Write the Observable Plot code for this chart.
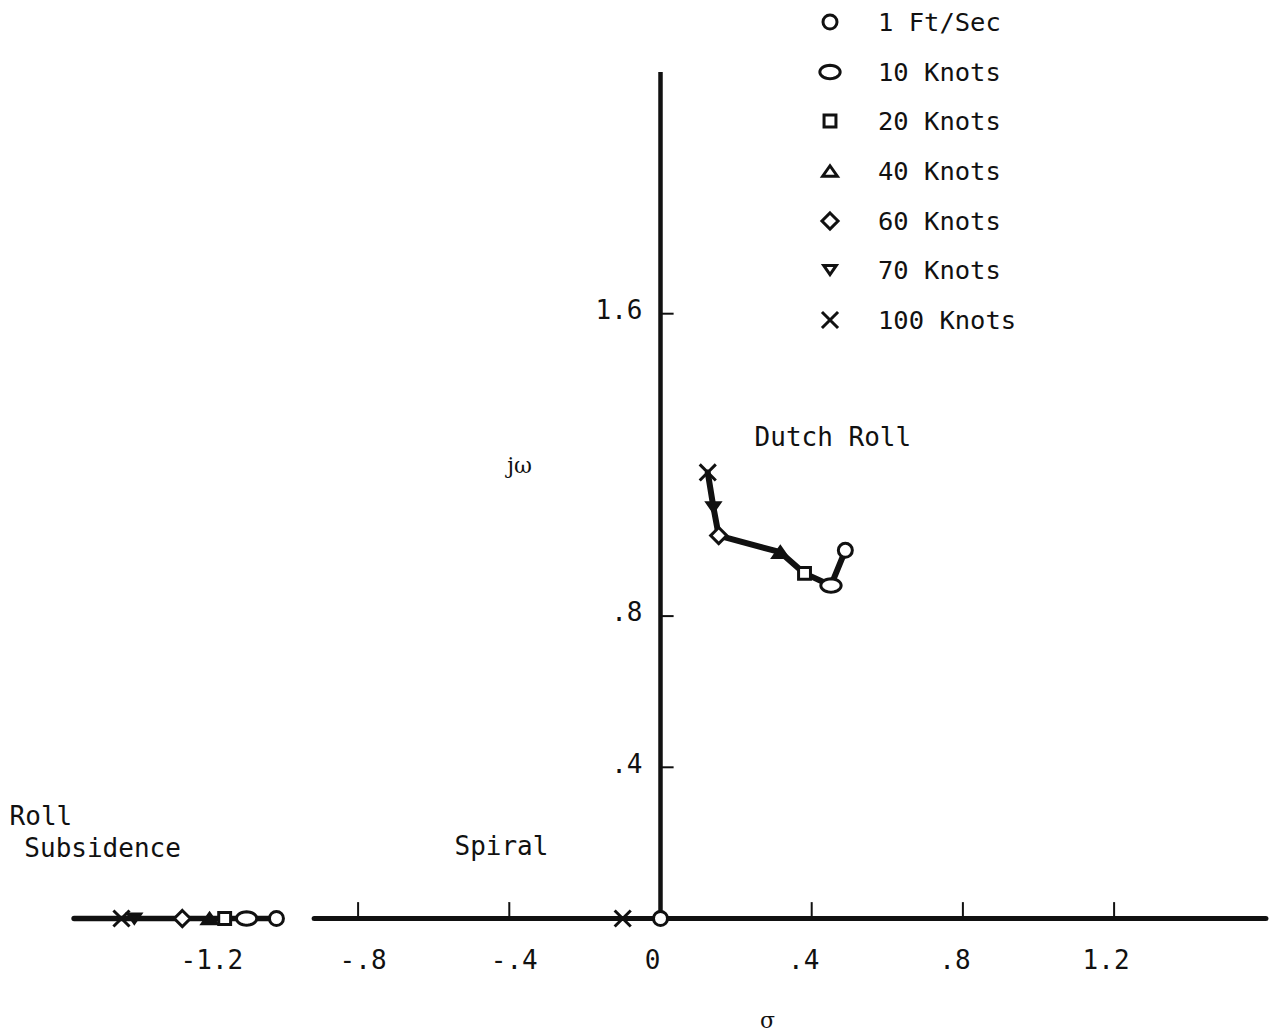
<!DOCTYPE html>
<html>
<head>
<meta charset="utf-8">
<script src="https://cdn.jsdelivr.net/npm/d3@7"></script>
<script src="https://cdn.jsdelivr.net/npm/@observablehq/plot@0.6"></script>
<style>
  body { margin: 0; background: #fff; }
  #wrap { position: relative; width: 1274px; height: 1036px; overflow: hidden; }
  #legend { position: absolute; left: 812px; top: -3px; font-family: "DejaVu Sans Mono", monospace; font-size: 25.5px; color: #111; }
  .row { display: flex; align-items: center; height: 49.7px; }
  .row svg { width: 36px; height: 36px; flex: none; }
  .row span { margin-left: 30px; white-space: pre; }
</style>
</head>
<body>
<div id="wrap"></div>
<script>
// ---- data ----
const speeds = ["1 Ft/Sec", "10 Knots", "20 Knots", "40 Knots", "60 Knots", "70 Knots", "100 Knots"];
// Dutch roll roots (upper half plane), in speed order
const dutchSigma = [0.489, 0.451, 0.381, 0.317, 0.154, 0.140, 0.125];
const dutchOmega = [0.974, 0.881, 0.913, 0.969, 1.013, 1.088, 1.180];
// Roll subsidence roots (real axis), in speed order
const rollSigma = [-1.016, -1.095, -1.153, -1.193, -1.265, -1.392, -1.426];
// Spiral roots visible on the real axis
const spiralSpeeds = ["1 Ft/Sec", "100 Knots"];
const spiralSigma = [0.0, -0.100];
// axes
const sigmaAxisMain = [-0.915, 1.603];
const sigmaAxisRoll = [-1.55, -1.016];
const omegaAxis = [0, 2.238];
const xTickMarks = [-0.8, -0.4, 0.4, 0.8, 1.2];
const xTickValues = [-1.2, -0.8, -0.4, 0, 0.4, 0.8, 1.2];
const xTickLabels = ["-1.2", "-.8", "-.4", "0", ".4", ".8", "1.2"];
const yTickValues = [0.4, 0.8, 1.6];
const yTickLabels = [".4", ".8", "1.6"];
// annotations (anchor in data coordinates)
const annoText = ["Dutch Roll", "Spiral", "Roll", "Subsidence"];
const annoSigma = [0.249, -0.545, -1.722, -1.683];
const annoOmega = [1.272, 0.190, 0.270, 0.185];
const axisNames = ["jω", "σ"];
const axisNameSigma = [-0.373, 0.283];
const axisNameOmega = [1.198, -0.272];

// ---- symbols ----
function sym(fn) { return { draw(c, size) { const r = Math.sqrt(size / Math.PI); fn(c, r); } }; }
const symCircle = sym((c, r) => { c.moveTo(r, 0); c.arc(0, 0, r, 0, 2 * Math.PI); c.closePath(); });
const symEllipse = sym((c, r) => {
  const a = r * 1.45, b = r * 0.95;
  for (let k = 0; k <= 36; k++) {
    const t = k / 36 * 2 * Math.PI, x = a * Math.cos(t), y = b * Math.sin(t);
    if (k) c.lineTo(x, y); else c.moveTo(x, y);
  }
  c.closePath();
});
const symSquare = sym((c, r) => { const s = r * 0.85; c.moveTo(-s, -s); c.lineTo(s, -s); c.lineTo(s, s); c.lineTo(-s, s); c.closePath(); });
const symTriUp = sym((c, r) => { const w = r * 1.05, h = r * 0.75; c.moveTo(0, -h); c.lineTo(w, h); c.lineTo(-w, h); c.closePath(); });
const symDiamond = sym((c, r) => { const s = r * 1.15; c.moveTo(0, -s); c.lineTo(s, 0); c.lineTo(0, s); c.lineTo(-s, 0); c.closePath(); });
const symTriDown = sym((c, r) => { const w = r * 0.9, h = r * 0.65; c.moveTo(-w, -h); c.lineTo(w, -h); c.lineTo(0, h); c.closePath(); });
const symTimes = sym((c, r) => { const s = r * 1.15; c.moveTo(-s, -s); c.lineTo(s, s); c.moveTo(s, -s); c.lineTo(-s, s); });
const symbols = [symCircle, symEllipse, symSquare, symTriUp, symDiamond, symTriDown, symTimes];
const filledInPlot = ["40 Knots", "70 Knots"];

// ---- tables ----
const dutch = speeds.map((s, i) => ({ speed: s, sigma: dutchSigma[i], omega: dutchOmega[i] }));
const roll = speeds.map((s, i) => ({ speed: s, sigma: rollSigma[i], omega: 0 }));
const spiral = spiralSpeeds.map((s, i) => ({ speed: s, sigma: spiralSigma[i], omega: 0 }));
const points = [...dutch, ...roll, ...spiral];
const xLabels = xTickValues.map((v, i) => ({ v, label: xTickLabels[i] }));
const yLabels = yTickValues.map((v, i) => ({ v, label: yTickLabels[i] }));
const annos = annoText.map((t, i) => ({ t, sigma: annoSigma[i], omega: annoOmega[i] }));
const names = axisNames.map((t, i) => ({ t, sigma: axisNameSigma[i], omega: axisNameOmega[i] }));

const W = 1274, H = 1036, x0 = 660, y0 = 918, k = 378;

const dotMarks = speeds.map((s, i) => Plot.dot(points.filter(d => d.speed === s), {
  x: "sigma", y: "omega", symbol: symbols[i], r: 7,
  stroke: "#111", strokeWidth: 3,
  fill: filledInPlot.includes(s) ? "#111" : "#fff"
}));

const plot = Plot.plot({
  width: W, height: H, margin: 0,
  x: { domain: [-x0 / k, (W - x0) / k], axis: null },
  y: { domain: [-(H - y0) / k, y0 / k], axis: null },
  style: { fontFamily: "DejaVu Sans Mono, monospace", background: "#fff", color: "#111" },
  marks: [
    Plot.ruleY([0], { x1: sigmaAxisMain[0], x2: sigmaAxisMain[1], stroke: "#111", strokeWidth: 5, strokeLinecap: "round" }),
    Plot.ruleY([0], { x1: sigmaAxisRoll[0], x2: sigmaAxisRoll[1], stroke: "#111", strokeWidth: 5.5, strokeLinecap: "round" }),
    Plot.ruleX([0], { y1: omegaAxis[0], y2: omegaAxis[1], stroke: "#111", strokeWidth: 4.5 }),
    Plot.ruleX(xTickMarks, { y1: 0, y2: 0.042, stroke: "#111", strokeWidth: 2 }),
    Plot.ruleY(yTickValues, { x1: 0, x2: 0.036, stroke: "#111", strokeWidth: 2 }),
    Plot.text(xLabels.filter(d => d.v < 0), { x: "v", y: 0, text: "label", dy: 42, dx: 5, fontSize: 26, fill: "#111" }),
    Plot.text(xLabels.filter(d => d.v >= 0), { x: "v", y: 0, text: "label", dy: 42, dx: -8, fontSize: 26, fill: "#111" }),
    Plot.text(yLabels, { x: 0, y: "v", text: "label", textAnchor: "end", dx: -18, dy: -3, fontSize: 26, fill: "#111" }),
    Plot.text(annos, { x: "sigma", y: "omega", text: "t", textAnchor: "start", fontSize: 26, fill: "#111" }),
    Plot.text(names, { x: "sigma", y: "omega", text: "t", fontSize: 22, lineAnchor: "middle", fontFamily: "DejaVu Serif, serif", fill: "#111" }),
    Plot.line(dutch, { x: "sigma", y: "omega", stroke: "#111", strokeWidth: 6, strokeLinejoin: "round", strokeLinecap: "round" }),
    ...dotMarks
  ]
});

const wrap = document.getElementById("wrap");
wrap.appendChild(plot);

// ---- legend ----
const legend = d3.select(wrap).append("div").attr("id", "legend");
speeds.forEach((s, i) => {
  const row = legend.append("div").attr("class", "row");
  const svg = row.append("svg").attr("viewBox", "-18 -18 36 36");
  svg.append("path")
    .attr("d", d3.symbol(symbols[i], Math.PI * 49)())
    .attr("fill", "none").attr("stroke", "#111").attr("stroke-width", 3);
  row.append("span").text(s);
});
</script>
</body>
</html>
